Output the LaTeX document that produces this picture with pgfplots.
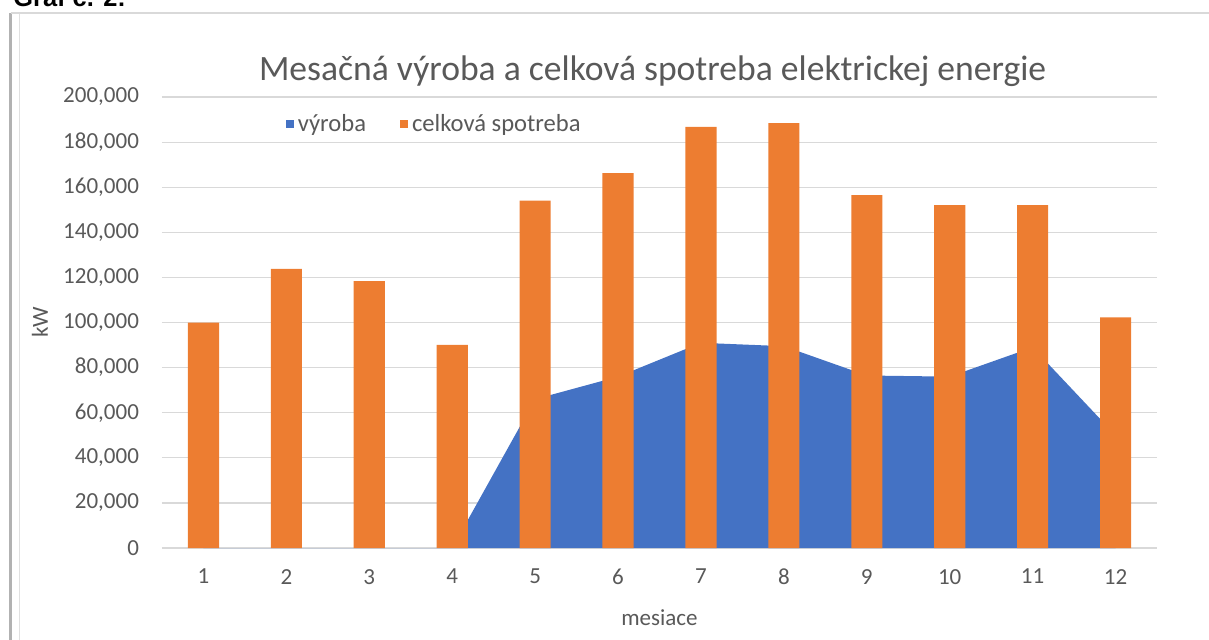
\documentclass[border=0pt]{standalone}
\usepackage{pgfplots}
\pgfplotsset{compat=1.18}
\usepackage{fontspec}
\setmainfont{Carlito}
\newfontfamily\arialfont{Liberation Sans}
\definecolor{blueC}{HTML}{4472C4}
\definecolor{orangeC}{HTML}{ED7D31}
\definecolor{gridC}{HTML}{D9D9D9}
\definecolor{textC}{HTML}{595959}
\begin{document}
\begin{tikzpicture}
\useasboundingbox (-81pt,-45.5pt) rectangle (523.5pt,274pt);
% outer frame
\draw[line width=1.5pt, black!30] (-75.5pt,-50pt) -- (-75.5pt,267.5pt);
\draw[line width=0.5pt, black!12] (-71pt,-50pt) -- (-71pt,267pt);
\draw[line width=0.6pt, black!15] (-75.5pt,267.5pt) -- (530pt,267.5pt);
\node[anchor=base west, inner sep=0pt, font=\arialfont\bfseries\fontsize{12.7}{14}\selectfont] at (-74.5pt,271pt) {Graf č. 2:};
\begin{axis}[
  at={(0,0)}, anchor=south west,
  scale only axis, width=497.5pt, height=225.5pt,
  xmin=0.5, xmax=12.5, ymin=0, ymax=200000,
  xtick={1,...,12}, ytick distance=20000,
  scaled y ticks=false,
  /pgf/number format/.cd, fixed, precision=0, 1000 sep={,}, assume math mode=true, /pgfplots/.cd,
  ymajorgrids, grid style={gridC, line width=0.6pt},
  axis x line=bottom, axis y line=left,
  x axis line style={gridC, line width=0.6pt, -},
  y axis line style={draw=none},
  major tick length=0pt,
  tick label style={font=\fontsize{11.5}{13}\selectfont, text=textC},
  xticklabel style={yshift=-7pt},
  yticklabel style={xshift=-8pt},
  xlabel={mesiace}, ylabel={kW},
  label style={font=\fontsize{11.5}{13}\selectfont, text=textC},
  xlabel style={at={(rel axis cs:0.5,-0.155)}, anchor=center},
  ylabel style={at={(rel axis cs:-0.1226,0.5)}, anchor=center},
  title={Mesačná výroba a celková spotreba elektrickej energie},
  title style={font=\fontsize{17.8}{20}\selectfont, text=textC, at={(rel axis cs:0.493,1)}, anchor=center, yshift=7pt},
  legend style={at={(rel axis cs:0.118,0.94)}, anchor=west, draw=none, fill=none,
    legend columns=2, font=\fontsize{12.3}{14}\selectfont, text=textC,
    /tikz/every even column/.append style={column sep=15pt}},
  legend cell align=left,
]
\addplot[fill=blueC, draw=none,
  legend image code/.code={\fill[blueC] (0pt,-2pt) rectangle (4pt,2pt);}]
  coordinates {(1,0) (2,0) (3,0) (4,0) (5,66000) (6,76000) (7,91000) (8,89500)
               (9,76500) (10,76000) (11,89000) (12,50000)} \closedcycle;
\addlegendentry{výroba}
\addplot[ybar, bar width=0.375, fill=orangeC, draw=none,
  legend image code/.code={\fill[orangeC] (0pt,-2pt) rectangle (4pt,2pt);}]
  coordinates {(1,100000) (2,123800) (3,118300) (4,90100) (5,154000) (6,166200)
               (7,186700) (8,188400) (9,156500) (10,152000) (11,152000) (12,102300)};
\addlegendentry{celková spotreba}
\end{axis}
\end{tikzpicture}
\end{document}
